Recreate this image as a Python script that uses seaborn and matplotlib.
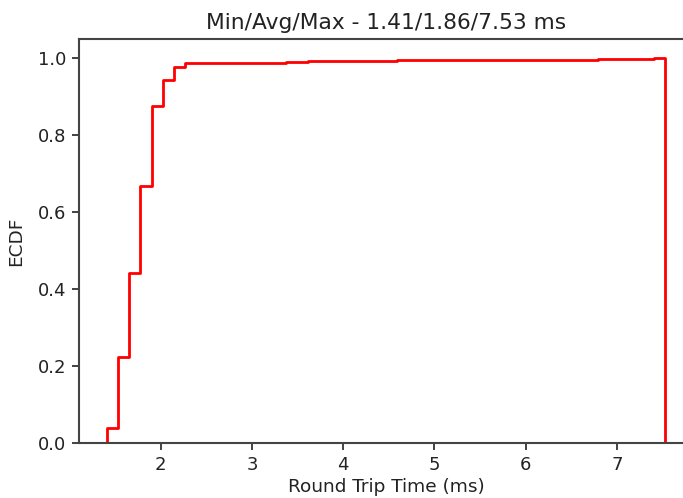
import numpy as np
import pandas as pd
import matplotlib
matplotlib.use("Agg")
import matplotlib.pyplot as plt
import seaborn as sns

# Data: binned round-trip-time samples (50 bins between min and max)
rtt_min, rtt_avg, rtt_max = 1.41, 1.86, 7.53
n_bins = 50
bin_index = [0, 1, 2, 3, 4, 5, 6, 7, 16, 18, 26, 44, 49]
bin_count = [17, 77, 92, 95, 87, 28, 14, 5, 1, 1, 1, 1, 1]
x_ticks = [2, 3, 4, 5, 6, 7]
y_ticks = [0.0, 0.2, 0.4, 0.6, 0.8, 1.0]

edges = np.linspace(rtt_min, rtt_max, n_bins + 1)
centers = (edges[:-1] + edges[1:]) / 2
df = pd.DataFrame({"rtt": centers[bin_index], "count": bin_count})

sns.set_style("ticks")
plt.rcParams["font.family"] = ["DejaVu Sans"]

fig = plt.figure(figsize=(6.83, 4.98), dpi=100)
ax = fig.add_axes([0.1157, 0.110, 0.899, 0.812])

sns.histplot(data=df, x="rtt", weights="count", bins=n_bins,
             binrange=(rtt_min, rtt_max), stat="probability",
             cumulative=True, element="step", fill=False, color="red",
             linewidth=2, ax=ax)

# close the step outline down to the baseline at both ends (like histtype='step')
line = ax.lines[0]
xs, ys = line.get_data()
xs = np.concatenate([[xs[0]], xs, [xs[-1]]])
ys = np.concatenate([[0.0], ys, [0.0]])
line.set_data(xs, ys)

ax.relim()
ax.autoscale_view()
ax.set_xlim(1.104, 7.836)
ax.set_ylim(0, 1.05)
ax.set_xticks(x_ticks)
ax.set_yticks(y_ticks)
ax.set_xticklabels([str(t) for t in x_ticks])
ax.set_yticklabels([f"{t:.1f}" for t in y_ticks])
ax.tick_params(labelsize=13, colors="#222222", width=1.2, length=5, pad=4)
for s in ax.spines.values():
    s.set_color("#444444")
    s.set_linewidth(1.5)

ax.set_xlabel("Round Trip Time (ms)", fontsize=13.3, color="#222222", labelpad=3)
ax.set_ylabel("ECDF", fontsize=13.3, color="#222222", labelpad=9)
ax.set_title(f"Min/Avg/Max - {rtt_min:.2f}/{rtt_avg:.2f}/{rtt_max:.2f} ms",
             fontsize=15.7, color="#222222", pad=7)

fig.savefig("out.png", dpi=100)
